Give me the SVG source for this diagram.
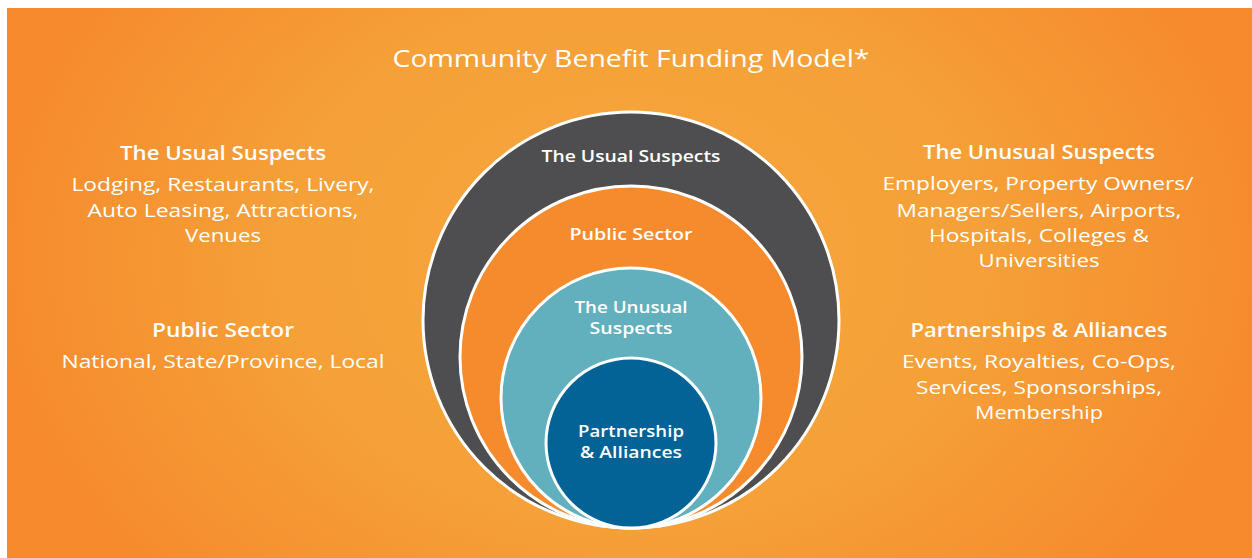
<svg xmlns="http://www.w3.org/2000/svg" width="1252" height="558" viewBox="0 0 1252 558">
  <defs>
    <radialGradient id="bg" cx="631" cy="260" r="640" gradientUnits="userSpaceOnUse" gradientTransform="translate(631 260) scale(1 0.75) translate(-631 -260)">
      <stop offset="0" stop-color="#f6a73d"/>
      <stop offset="0.55" stop-color="#f5a038"/>
      <stop offset="1" stop-color="#f68a2d"/>
    </radialGradient>
  </defs>
  <style>
    text { font-family: "Open Sans", "Liberation Sans", sans-serif; fill: #ffffff; text-anchor: middle; }
    .title { font-size: 24px; font-weight: 500; }
    .head { font-size: 20px; font-weight: 600; }
    .body { font-size: 19px; font-weight: 400; }
    .ring { font-size: 16.5px; font-weight: 600; }
    .disc { stroke: #ffffff; stroke-width: 3; }
  </style>

  <rect x="7" y="8" width="1245" height="550" fill="url(#bg)"/>

  <text class="title" x="631" y="67" textLength="477" lengthAdjust="spacingAndGlyphs">Community Benefit Funding Model*</text>

  <!-- nested rings, all touching at the bottom -->
  <g id="ring-usual">
    <circle class="disc" cx="631" cy="320" r="208" fill="#4e4e50"/>
    <text class="ring" x="631" y="162" textLength="179" lengthAdjust="spacingAndGlyphs">The Usual Suspects</text>
  </g>
  <g id="ring-public">
    <circle class="disc" cx="631" cy="357" r="171" fill="#f68b2e"/>
    <text class="ring" x="631" y="240" textLength="123" lengthAdjust="spacingAndGlyphs">Public Sector</text>
  </g>
  <g id="ring-unusual">
    <circle class="disc" cx="631" cy="398" r="130" fill="#62afbd"/>
    <text class="ring" x="631" y="313" textLength="113" lengthAdjust="spacingAndGlyphs">The Unusual</text>
    <text class="ring" x="631" y="334" textLength="83" lengthAdjust="spacingAndGlyphs">Suspects</text>
  </g>
  <g id="ring-partnership">
    <circle class="disc" cx="631" cy="443" r="85" fill="#036396"/>
    <text class="ring" x="631" y="437" textLength="106" lengthAdjust="spacingAndGlyphs">Partnership</text>
    <text class="ring" x="631" y="458" textLength="102" lengthAdjust="spacingAndGlyphs">&amp; Alliances</text>
  </g>

  <!-- left column -->
  <g id="note-usual">
    <text class="head" x="223" y="160" textLength="206" lengthAdjust="spacingAndGlyphs">The Usual Suspects</text>
    <text class="body" x="223" y="191" textLength="303" lengthAdjust="spacingAndGlyphs">Lodging, Restaurants, Livery,</text>
    <text class="body" x="223" y="217" textLength="271" lengthAdjust="spacingAndGlyphs">Auto Leasing, Attractions,</text>
    <text class="body" x="223" y="242" textLength="76" lengthAdjust="spacingAndGlyphs">Venues</text>
  </g>
  <g id="note-public">
    <text class="head" x="223" y="337" textLength="142" lengthAdjust="spacingAndGlyphs">Public Sector</text>
    <text class="body" x="223" y="368" textLength="323" lengthAdjust="spacingAndGlyphs">National, State/Province, Local</text>
  </g>

  <!-- right column -->
  <g id="note-unusual">
    <text class="head" x="1039" y="159" textLength="232" lengthAdjust="spacingAndGlyphs">The Unusual Suspects</text>
    <text class="body" x="1038" y="190" textLength="311" lengthAdjust="spacingAndGlyphs">Employers, Property Owners/</text>
    <text class="body" x="1039" y="217" textLength="285" lengthAdjust="spacingAndGlyphs">Managers/Sellers, Airports,</text>
    <text class="body" x="1039" y="242" textLength="220" lengthAdjust="spacingAndGlyphs">Hospitals, Colleges &amp;</text>
    <text class="body" x="1039" y="267" textLength="121" lengthAdjust="spacingAndGlyphs">Universities</text>
  </g>
  <g id="note-partnerships">
    <text class="head" x="1039" y="337" textLength="257" lengthAdjust="spacingAndGlyphs">Partnerships &amp; Alliances</text>
    <text class="body" x="1039" y="368" textLength="274" lengthAdjust="spacingAndGlyphs">Events, Royalties, Co-Ops,</text>
    <text class="body" x="1039" y="394" textLength="246" lengthAdjust="spacingAndGlyphs">Services, Sponsorships,</text>
    <text class="body" x="1039" y="419" textLength="128" lengthAdjust="spacingAndGlyphs">Membership</text>
  </g>

  <g id="connectors"/>
</svg>
